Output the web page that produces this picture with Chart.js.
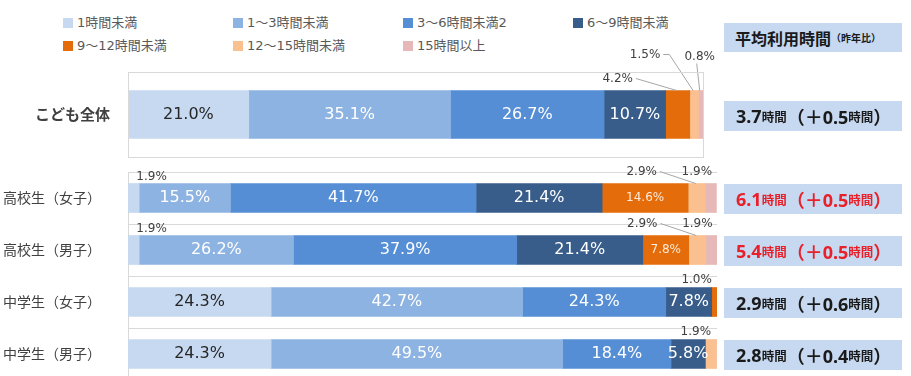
<!DOCTYPE html>
<html lang="ja">
<head>
<meta charset="utf-8">
<script src="https://cdn.jsdelivr.net/npm/chart.js@4"></script>
<style>
html, body { margin: 0; padding: 0; width: 911px; height: 376px; overflow: hidden; background: #fff; }
body { position: relative; font-family: "DejaVu Sans", "Noto Sans CJK JP", sans-serif; }
#topChart { position: absolute; left: 0; top: 0; }
#bottomChart { position: absolute; left: 0; top: 162px; }
.legend-item { position: absolute; font-size: 13px; color: #595959; line-height: 16px; white-space: nowrap; }
.legend-item i { display: inline-block; width: 10px; height: 10px; margin-right: 4px; vertical-align: -1px; }
.box { position: absolute; left: 724px; width: 178px; height: 30px; background: #C6D9F1; box-sizing: border-box;
       display: flex; align-items: center; white-space: nowrap; font-family: "Noto Sans", "Noto Sans CJK JP", sans-serif; font-weight: bold; color: #1a1a1a; }
.box .n { font-size: 18px; }
.box .u { font-size: 12.5px; font-family: "Noto Sans CJK JP"; }
#header { top: 23px; height: 29px; padding-left: 11px; font-family: "Noto Sans CJK JP", sans-serif; }
#header .big { font-size: 16px; }
#header .small { font-size: 10px; }
</style>
</head>
<body>
<div id="legend"></div>
<canvas id="topChart" width="911" height="184"></canvas>
<canvas id="bottomChart" width="911" height="227"></canvas>
<div class="box" id="header"><span class="big">平均利用時間</span><span class="small">（昨年比）</span></div>
<div id="boxes"></div>
<script>
// 行ラベル
const topCategory = ['こども全体'];
const groupCategories = ['高校生（女子）', '高校生（男子）', '中学生（女子）', '中学生（男子）'];
const seriesNames = ['1時間未満', '1～3時間未満', '3～6時間未満2', '6～9時間未満', '9～12時間未満', '12～15時間未満', '15時間以上'];

// 割合 (%): こども全体, 高校生女子, 高校生男子, 中学生女子, 中学生男子
const under1h   = [21.0, 1.9, 1.9, 24.3, 24.3];
const h1to3     = [35.1, 15.5, 26.2, 42.7, 49.5];
const h3to6     = [26.7, 41.7, 37.9, 24.3, 18.4];
const h6to9     = [10.7, 21.4, 21.4, 7.8, 5.8];
const h9to12    = [4.2, 14.6, 7.8, 1.0, 0];
const h12to15   = [1.5, 2.9, 2.9, 0, 1.9];
const over15h   = [0.8, 1.9, 1.9, 0, 0];
const seriesValues = [under1h, h1to3, h3to6, h6to9, h9to12, h12to15, over15h];

// 平均利用時間と昨年比
const avgHours = ['3.7', '6.1', '5.4', '2.9', '2.8'];
const avgDiff = ['0.5', '0.5', '0.5', '0.6', '0.4'];
const avgHighlight = [false, true, true, false, false];

const seriesColors = ['#C6D9F0', '#8DB3E2', '#558ED5', '#385D8A', '#E46C0A', '#FAC090', '#E6B9B8'];
const labelColors = ['#262626', '#FFFFFF', '#FFFFFF', '#FFFFFF', '#FDEADA', '#FFFFFF', '#FFFFFF'];
const labelSizes = [16, 16, 16, 16, 12, 12, 12];

// 凡例
const legendSlots = [[63, 15], [233, 15], [403, 15], [573, 15], [63, 38], [233, 38], [403, 38]];
const legendEl = document.getElementById('legend');
seriesNames.forEach((name, i) => {
    const d = document.createElement('div');
    d.className = 'legend-item';
    d.style.left = legendSlots[i][0] + 'px';
    d.style.top = legendSlots[i][1] + 'px';
    d.innerHTML = `<i style="background:${seriesColors[i]}"></i>${name}`;
    legendEl.appendChild(d);
});

// バー内ラベルと引き出し線
const segmentLabels = {
    id: 'segmentLabels',
    afterDatasetsDraw(chart, args, opts) {
        const ctx = chart.ctx;
        ctx.save();
        ctx.textAlign = 'center';
        ctx.textBaseline = 'middle';
        chart.data.datasets.forEach((ds, di) => {
            const meta = chart.getDatasetMeta(di);
            meta.data.forEach((bar, i) => {
                const v = ds.data[i];
                if (!v) return;
                const p = bar.getProps(['x', 'y', 'base', 'height'], true);
                const cx = (p.x + p.base) / 2;
                const top = p.y - p.height / 2;
                const text = v.toFixed(1) + '%';
                if (v >= 5) {
                    ctx.font = `${labelSizes[di]}px "DejaVu Sans"`;
                    ctx.fillStyle = labelColors[di];
                    ctx.fillText(text, cx, p.y);
                    return;
                }
                const c = opts.callouts.find(o => o.row === i && o.series === di);
                if (!c) return;
                ctx.font = '12px "DejaVu Sans"';
                ctx.fillStyle = '#404040';
                const lx = cx + c.dx, ly = top + c.dy;
                ctx.fillText(text, lx, ly);
                if (c.line) {
                    const w = ctx.measureText(text).width;
                    ctx.strokeStyle = '#A6A6A6';
                    ctx.lineWidth = 1;
                    ctx.beginPath();
                    if (c.line === 'down') {
                        ctx.moveTo(lx - 3, ly + 7);
                    } else {
                        ctx.moveTo(lx + w / 2 + 3, ly);
                        if (c.line === 'elbow') ctx.lineTo(lx + w / 2 + 9, ly);
                    }
                    ctx.lineTo(cx - 1, top);
                    ctx.stroke();
                }
            });
        });
        ctx.restore();
    }
};

// 上段の枠
const frame = {
    id: 'frame',
    afterDraw(chart) {
        const a = chart.chartArea;
        const ctx = chart.ctx;
        ctx.save();
        ctx.strokeStyle = '#D9D9D9';
        ctx.lineWidth = 1;
        ctx.strokeRect(Math.round(a.left) + 0.5, Math.round(a.top) + 0.5, Math.round(a.right - a.left), Math.round(a.bottom - a.top));
        ctx.restore();
    }
};

function makeDatasets(rows, thickness) {
    return seriesValues.map((vals, i) => ({
        label: seriesNames[i],
        data: rows.map(r => vals[r]),
        backgroundColor: seriesColors[i],
        borderWidth: 0,
        barThickness: thickness,
    }));
}

// 上段: こども全体 (ticks.padding が上下の余白にも効くので canvas を高めにしている)
const topChart = new Chart(document.getElementById('topChart'), {
    type: 'bar',
    data: { labels: topCategory, datasets: makeDatasets([0], 48) },
    options: {
        indexAxis: 'y',
        responsive: false,
        animation: false,
        layout: { padding: { top: 72, bottom: 0, left: 0, right: 208 } },
        scales: {
            x: { stacked: true, min: 0, max: 100, display: false },
            y: {
                stacked: true,
                afterFit(scale) { scale.width = 128; },
                grid: { display: false, drawTicks: false },
                border: { display: false },
                ticks: { crossAlign: 'near', padding: 18, color: '#404040',
                         font: { family: '"Noto Sans CJK JP"', size: 15, weight: 'bold' } },
            },
        },
        plugins: {
            legend: { display: false },
            tooltip: { enabled: false },
            segmentLabels: {
                callouts: [
                    { row: 0, series: 4, dx: -60, dy: -12, line: 'side' },
                    { row: 0, series: 5, dx: -49, dy: -36, line: 'elbow' },
                    { row: 0, series: 6, dx: -1, dy: -34, line: 'down' },
                ],
            },
        },
    },
    plugins: [segmentLabels, frame],
});

// 下段: 高校生・中学生
const bottomChart = new Chart(document.getElementById('bottomChart'), {
    type: 'bar',
    data: { labels: groupCategories, datasets: makeDatasets([1, 2, 3, 4], 29) },
    options: {
        indexAxis: 'y',
        responsive: false,
        animation: false,
        layout: { padding: { top: 10, bottom: 9, left: 3, right: 194 } },
        scales: {
            x: { stacked: true, min: 0, max: 100, display: false },
            y: {
                stacked: true,
                afterFit(scale) { scale.width = 125; },
                grid: { color: '#D9D9D9', drawTicks: false },
                border: { color: '#D9D9D9' },
                ticks: { crossAlign: 'far', padding: 0, color: '#404040',
                         font: { family: '"Noto Sans CJK JP"', size: 14 } },
            },
        },
        plugins: {
            legend: { display: false },
            tooltip: { enabled: false },
            segmentLabels: {
                callouts: [
                    { row: 0, series: 0, dx: 18, dy: -7 },
                    { row: 0, series: 5, dx: -55, dy: -12, line: 'side' },
                    { row: 0, series: 6, dx: -14, dy: -12 },
                    { row: 1, series: 0, dx: 18, dy: -7 },
                    { row: 1, series: 5, dx: -55, dy: -12, line: 'side' },
                    { row: 1, series: 6, dx: -14, dy: -12 },
                    { row: 2, series: 4, dx: -18, dy: -8 },
                    { row: 3, series: 5, dx: -15, dy: -8 },
                ],
            },
        },
    },
    plugins: [segmentLabels],
});

// 平均利用時間ボックス
const boxesEl = document.getElementById('boxes');
function addBox(idx, centerY) {
    const d = document.createElement('div');
    d.className = 'box';
    d.style.top = Math.round(centerY - 14) + 'px';
    d.style.paddingLeft = '12px';
    if (avgHighlight[idx]) d.style.color = '#E8202A';
    d.innerHTML = `<span class="n">${avgHours[idx]}</span><span class="u">時間</span>` +
                  `<span class="n">（＋${avgDiff[idx]}</span><span class="u">時間</span><span class="n">）</span>`;
    boxesEl.appendChild(d);
}
addBox(0, topChart.scales.y.getPixelForValue(0));
groupCategories.forEach((_, i) => addBox(i + 1, 162 + bottomChart.scales.y.getPixelForValue(i)));
</script>
</body>
</html>
